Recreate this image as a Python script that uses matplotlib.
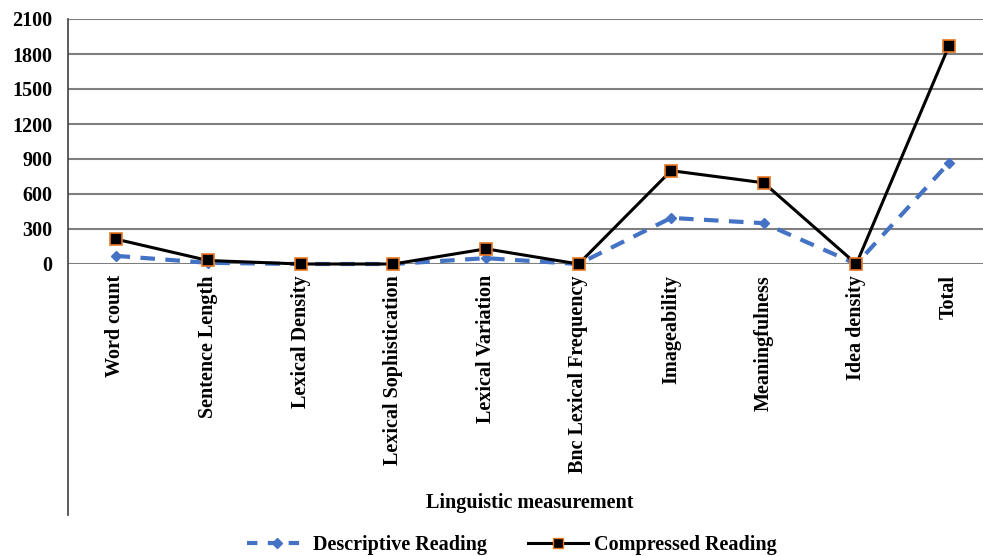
import matplotlib
matplotlib.use("Agg")
import matplotlib.pyplot as plt
from matplotlib.lines import Line2D

categories = ["Word count", "Sentence Length", "Lexical Density", "Lexical Sophistication",
              "Lexical Variation", "Bnc Lexical Frequency", "Imageability", "Meaningfulness",
              "Idea density", "Total"]
descriptive = [70, 10, 0, 0, 50, 0, 395, 350, 0, 866]
compressed = [214, 30, 0, 0, 130, 0, 800, 696, 0, 1868]
yticks = [0, 300, 600, 900, 1200, 1500, 1800, 2100]

plt.rcParams['font.family'] = ['Liberation Serif', 'DejaVu Serif']
plt.rcParams['font.weight'] = 'bold'

W, H = 983, 556
fig = plt.figure(figsize=(W / 100, H / 100), dpi=100)
left, right, top, bottom = 68, 983, 19, 264
ax = fig.add_axes([left / W, 1 - bottom / H, (right - left) / W, (bottom - top) / H])

x = list(range(len(categories)))
ax.plot(x, descriptive, color='#4472C4', lw=3, ls=(0, (3.5, 2.5)), marker='D', ms=5,
        mfc='#4472C4', mec='#4472C4', label='Descriptive Reading', clip_on=False, zorder=3)
ax.plot(x, compressed, color='black', lw=2.2, marker='s', ms=8, mfc='black',
        mec='#E87722', mew=1.2, label='Compressed Reading', clip_on=False, zorder=4)

spacing = 92.6
first = 115.5
ax.set_xlim(-(first - left) / spacing, -(first - left) / spacing + (right - left) / spacing)
ax.set_ylim(0, 2100)
ax.set_yticks(yticks)
ax.set_yticklabels([str(v) for v in yticks], fontsize=14.5, fontweight='bold')
ax.yaxis.grid(True, color='#7f7f7f', lw=1.5)
ax.set_axisbelow(True)
ax.tick_params(axis='y', length=0, pad=11)
ax.set_xticks(x)
ax.set_xticklabels(categories, rotation=90, fontsize=14.5, fontweight='bold', va='top', ha='center')
ax.tick_params(axis='x', length=0, pad=8)
for s in ['top', 'right', 'bottom', 'left']:
    ax.spines[s].set_visible(False)
# left axis line extending below the plot
x0 = ax.get_xlim()[0]
ax.add_line(Line2D([x0, x0], [2100, -2150], color='#404040', lw=1.2, clip_on=False,
                   transform=ax.transData))

fig.text(530 / W, 1 - 503 / H, 'Linguistic measurement', ha='center', va='center',
         fontsize=14.5, fontweight='bold')

handles = [Line2D([], [], color='#4472C4', lw=3, ls=(0, (2.5, 2.5)), marker='D', ms=5),
           Line2D([], [], color='black', lw=2.2, marker='s', ms=7, mfc='black', mec='#E87722')]
fig.legend(handles, ['Descriptive Reading', 'Compressed Reading'], loc='center',
           bbox_to_anchor=(512 / W, 1 - 545 / H), ncol=2, frameon=False,
           prop={'size': 14.5, 'weight': 'bold'}, handlelength=3.0, columnspacing=2.0, handletextpad=0.3)

fig.savefig('out.png', dpi=100)
